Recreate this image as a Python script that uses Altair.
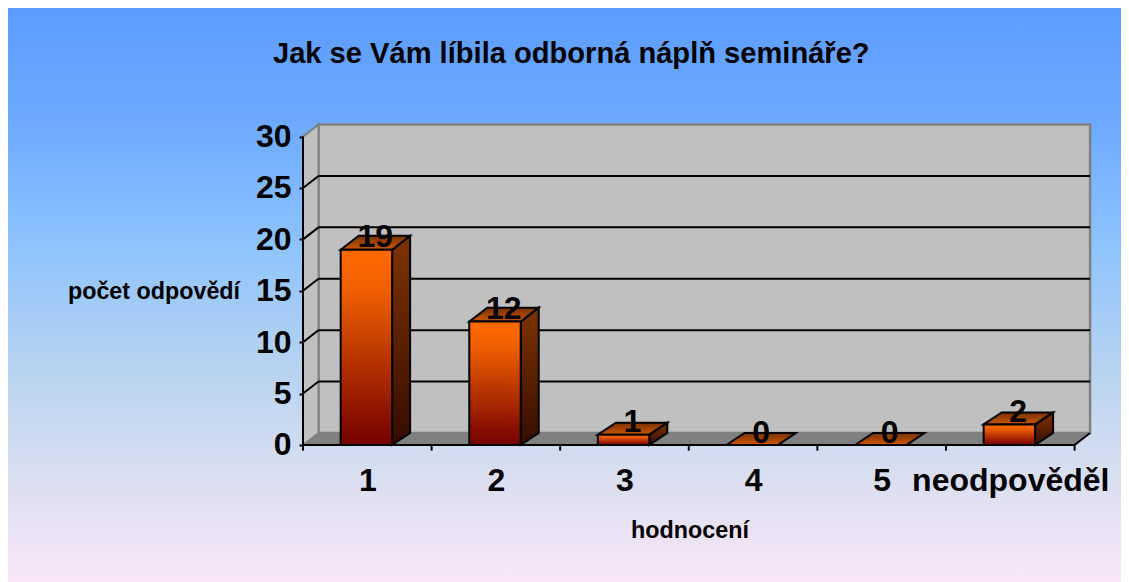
import json
import altair as alt
import pandas as pd

# ---- data
categories = ["1", "2", "3", "4", "5", "neodpověděl"]
values = [19, 12, 1, 0, 0, 2]
y_ticks = [0, 5, 10, 15, 20, 25, 30]
grid_levels = [5, 10, 15, 20, 25]
x_boundaries = [0, 1, 2, 3, 4, 5, 6]
title_text = "Jak se Vám líbila odborná náplň semináře?"
y_title = "počet odpovědí"
x_title = "hodnocení"

# ---- chart geometry in data units
W, H = 1113, 574
X_DOMAIN = [-2.294, 6.361]
Y_DOMAIN = [-13.33, 42.51]
WALL_DX = 0.1205       # depth of the chart box (categories)
WALL_DY = 1.17         # depth of the chart box (value units)
BAR_OFFSET = 0.293
BAR_WIDTH = 0.40
BAR_DX = 0.14
bar_dy = [1.36, 1.36, 1.17, 1.17, 1.17, 1.17]
Y_MAX = y_ticks[-1]
FONT = "Liberation Sans"

xs = alt.Scale(domain=X_DOMAIN, nice=False, zero=False)
ys = alt.Scale(domain=Y_DOMAIN, nice=False, zero=False)

label_expr = json.dumps(categories, ensure_ascii=False) + "[datum.value - 0.5]"
AX_X = alt.Axis(
    title=x_title,
    values=[i + 0.5 for i in range(len(categories))], labelExpr=label_expr,
    domain=False, ticks=False, grid=False, orient="bottom", offset=-(H - 437),
    labelFont=FONT, labelFontWeight="bold", labelFontSize=32, labelColor="black",
    labelPadding=20, labelOverlap=False, labelFlush=False, labelBound=False, labelLimit=400,
    titleFont=FONT, titleFontWeight="bold", titleFontSize=23.3, titleColor="black",
    titleX=681.5, titleY=85, titleAlign="center", titleBaseline="middle", zindex=1)
AX_Y = alt.Axis(
    title=y_title,
    values=y_ticks, domain=False, ticks=True, tickSize=4, tickWidth=2, tickColor="black",
    grid=False, orient="left", offset=-295,
    labelFont=FONT, labelFontWeight="bold", labelFontSize=32, labelColor="black",
    labelPadding=8, labelOverlap=False, labelFlush=False, labelBound=False,
    titleFont=FONT, titleFontWeight="bold", titleFontSize=23.3, titleColor="black",
    titleAngle=0, titleX=-149.5, titleY=283, titleAlign="center", titleBaseline="middle",
    zindex=1)

X = lambda f="x": alt.X(f"{f}:Q", scale=xs, axis=AX_X)
Y = lambda f="y": alt.Y(f"{f}:Q", scale=ys, axis=AX_Y)
X2 = alt.X2("x2:Q")
Y2 = alt.Y2("y2:Q")


def grad(*stops):
    return {
        "gradient": "linear", "x1": 0, "y1": 0, "x2": 0, "y2": 1,
        "stops": [{"offset": o, "color": c} for o, c in stops],
    }


# ---- background
bg = alt.Chart(pd.DataFrame({"a": [0]})).mark_rect(
    fill=grad((0, "#5C9CFF"), (0.18, "#6AA8FF"), (0.42, "#8FC4FD"),
              (0.62, "#B6D2F0"), (0.80, "#D6DEF0"), (1, "#F9E6F8"))
).encode(x=alt.value(0), x2=alt.value(W), y=alt.value(0), y2=alt.value(H))

# ---- walls and floor
back_wall = alt.Chart(pd.DataFrame([{
    "x": WALL_DX, "x2": 6 + WALL_DX, "y": WALL_DY, "y2": Y_MAX + WALL_DY
}])).mark_rect(fill="#C0C0C0", stroke="#808080", strokeWidth=2.5).encode(
    x=X(), x2=X2, y=Y(), y2=Y2)

left_wall = alt.Chart(pd.DataFrame([
    {"x": 0, "y": 0, "y2": Y_MAX},
    {"x": WALL_DX, "y": WALL_DY, "y2": Y_MAX + WALL_DY},
])).mark_area(fill="#C0C0C0", stroke="#808080", strokeWidth=2, orient="vertical").encode(
    x=X(), y=Y(), y2=Y2)

floor = alt.Chart(pd.DataFrame([
    {"x": 0, "y": 0, "y2": 0},
    {"x": WALL_DX, "y": WALL_DY, "y2": 0},
    {"x": 6, "y": WALL_DY, "y2": 0},
    {"x": 6 + WALL_DX, "y": WALL_DY, "y2": WALL_DY},
])).mark_area(fill="#808080", orient="vertical").encode(x=X(), y=Y(), y2=Y2)

# ---- gridlines
grid_back = alt.Chart(pd.DataFrame({
    "y": [g + WALL_DY for g in grid_levels]
})).transform_calculate(x=str(WALL_DX), x2=str(6 + WALL_DX)).mark_rule(
    color="black", strokeWidth=2).encode(x=X(), x2=X2, y=Y())

grid_left = alt.Chart(pd.DataFrame({
    "x": [0] * len(grid_levels), "x2": [WALL_DX] * len(grid_levels),
    "y": grid_levels, "y2": [g + WALL_DY for g in grid_levels],
})).mark_rule(color="black", strokeWidth=2).encode(x=X(), x2=X2, y=Y(), y2=Y2)

right_diag = alt.Chart(pd.DataFrame([
    {"x": 6, "x2": 6 + WALL_DX, "y": 0, "y2": WALL_DY}
])).mark_rule(color="black", strokeWidth=2).encode(x=X(), x2=X2, y=Y(), y2=Y2)

# ---- bars
front_rows, side_rows, top_rows = [], [], []
for i, (v, dy) in enumerate(zip(values, bar_dy)):
    l = i + BAR_OFFSET
    r = l + BAR_WIDTH
    top_rows += [
        {"b": i, "x": l, "y": v, "y2": v},
        {"b": i, "x": l + BAR_DX, "y": v + dy, "y2": v},
        {"b": i, "x": r, "y": v + dy, "y2": v},
        {"b": i, "x": r + BAR_DX, "y": v + dy, "y2": v + dy},
    ]
    if v > 0:
        front_rows.append({"x": l, "x2": r, "y": 0, "y2": v, "b": i})
        side_rows += [
            {"b": i, "x": r, "y": v, "y2": 0},
            {"b": i, "x": r + BAR_DX, "y": v + dy, "y2": WALL_DY},
        ]

side = alt.Chart(pd.DataFrame(side_rows)).mark_area(
    fill=grad((0, "#7E3400"), (1, "#360C00")), stroke="black", strokeWidth=2,
    orient="vertical", strokeJoin="miter"
).encode(x=X(), y=Y(), y2=Y2, detail="b:N")

top = alt.Chart(pd.DataFrame(top_rows)).mark_area(
    fill=grad((0, "#783200"), (1, "#CC5500")), stroke="black", strokeWidth=2,
    orient="vertical", strokeJoin="miter"
).encode(x=X(), y=Y(), y2=Y2, detail="b:N")

front = alt.Chart(pd.DataFrame(front_rows)).mark_rect(
    fill=grad((0, "#FF6A00"), (0.2, "#F06000"), (1, "#740000")), stroke="black", strokeWidth=2
).encode(x=X(), x2=X2, y=Y(), y2=Y2, detail="b:N")

# ---- front axis lines, x ticks
axis_x = alt.Chart(pd.DataFrame([{"x": 0, "x2": 6, "y": 0}])).mark_rule(
    color="black", strokeWidth=2).encode(x=X(), x2=X2, y=Y())
axis_y = alt.Chart(pd.DataFrame([{"x": 0, "y": 0, "y2": Y_MAX}])).mark_rule(
    color="black", strokeWidth=2).encode(x=X(), y=Y(), y2=Y2)
x_ticks = alt.Chart(pd.DataFrame({"x": x_boundaries})).transform_calculate(
    y="0", y2="-0.55").mark_rule(color="black", strokeWidth=2).encode(x=X(), y=Y(), y2=Y2)

# ---- value labels
labels = alt.Chart(pd.DataFrame({
    "x": [i + 0.5 + 0.062 for i in range(len(values))],
    "y": [v + 1.2 for v in values],
    "t": [str(v) for v in values],
})).mark_text(font=FONT, fontWeight="bold", fontSize=32, color="black", baseline="middle").encode(
    x=X(), y=Y(), text="t:N")

chart = alt.layer(
    bg, back_wall, left_wall, floor, grid_back, grid_left, right_diag,
    axis_x, axis_y, x_ticks, side, top, front, labels,
).properties(
    width=W, height=H, padding=0,
    autosize=alt.AutoSizeParams(type="none"),
    title=alt.TitleParams(
        text=title_text, font=FONT, fontWeight="bold", fontSize=29.1, color="black",
        anchor="start", frame="bounds", dx=265, dy=61, offset=0),
).configure_view(stroke=None)

chart.save("out.html", embed_options={"renderer": "svg", "actions": False})
